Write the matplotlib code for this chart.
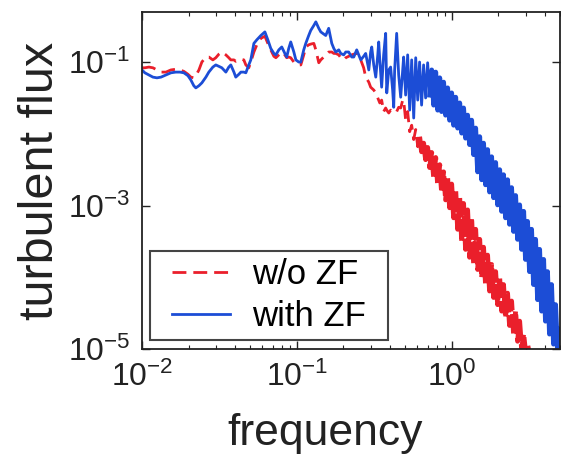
import numpy as np
import matplotlib
matplotlib.use("Agg")
import matplotlib.pyplot as plt
from matplotlib.legend_handler import HandlerLine2D
from matplotlib.ticker import FixedLocator, FixedFormatter, LogLocator, NullLocator

# Flux spectra with and without zonal flows, digitised as log10 values.
log_freq_nozf = [
    -2.000, -1.981, -1.955, -1.929, -1.903, -1.877, -1.845, -1.813, -1.781, -1.755,
    -1.729, -1.703, -1.684, -1.665, -1.652, -1.632, -1.613, -1.587, -1.568, -1.542,
    -1.523, -1.503, -1.484, -1.458, -1.439, -1.426, -1.406, -1.394, -1.374, -1.361,
    -1.342, -1.329, -1.310, -1.297, -1.277, -1.258, -1.232, -1.206, -1.187, -1.168,
    -1.148, -1.135, -1.116, -1.097, -1.077, -1.065, -1.052, -1.039, -1.019, -1.006,
    -0.987, -0.974, -0.955, -0.942, -0.923, -0.910, -0.890, -0.877, -0.858, -0.845,
    -0.826, -0.813, -0.794, -0.774, -0.761, -0.748, -0.729, -0.716, -0.697, -0.684,
    -0.665, -0.645, -0.632, -0.613, -0.600, -0.587, -0.568, -0.555, -0.535, -0.523,
    -0.503, -0.490, -0.477, -0.464, -0.452, -0.439, -0.426, -0.419, -0.406, -0.394,
    -0.381, -0.368, -0.355, -0.342, -0.329, -0.316, -0.310,
    -0.297, -0.284, -0.271, -0.258, -0.245, -0.232, -0.219, -0.207, -0.194, -0.181,
    -0.168, -0.155, -0.142, -0.129, -0.116, -0.103, -0.090, -0.077, -0.065, -0.052,
    -0.039, -0.026, -0.013, 0.000, 0.013, 0.026, 0.039, 0.052, 0.065, 0.077,
    0.090, 0.103, 0.116, 0.129, 0.142, 0.155, 0.168, 0.181, 0.194, 0.206,
    0.219, 0.232, 0.245, 0.258, 0.271, 0.284, 0.297, 0.310, 0.323, 0.335,
    0.348, 0.361, 0.374, 0.387, 0.400, 0.413, 0.426, 0.439, 0.452, 0.465,
    0.477, 0.490, 0.503,
]
log_flux_nozf = [
    -1.08, -1.08, -1.07, -1.08, -1.11, -1.14, -1.14, -1.11, -1.10, -1.11,
    -1.13, -1.17, -1.21, -1.22, -1.19, -1.11, -1.00, -0.93, -0.93, -0.97,
    -0.94, -0.89, -0.86, -0.90, -0.94, -0.97, -0.97, -0.99, -0.97, -0.96,
    -0.97, -1.04, -1.08, -1.00, -0.86, -0.76, -0.67, -0.64, -0.74, -0.83,
    -0.92, -0.94, -0.90, -0.86, -0.90, -0.94, -0.93, -0.94, -1.00, -1.01,
    -1.04, -1.04, -0.90, -0.79, -0.76, -0.75, -0.74, -0.83, -1.01, -0.97,
    -0.93, -0.90, -0.86, -0.86, -0.88, -0.88, -0.90, -0.94, -0.97, -0.94,
    -0.92, -0.90, -0.89, -0.88, -0.93, -0.97, -1.08, -1.21, -1.28, -1.35,
    -1.39, -1.43, -1.50, -1.57, -1.53, -1.69, -1.64, -1.67, -1.71, -1.67,
    -1.69, -1.67, -1.69, -1.63, -1.64, -1.53, -1.53,
    -1.81, -1.69, -1.97, -1.88, -2.08, -1.94, -2.18, -2.04, -2.25, -2.13,
    -2.36, -2.19, -2.47, -2.26, -2.61, -2.33, -2.71, -2.43, -2.81, -2.53,
    -2.92, -2.61, -3.03, -2.70, -3.17, -2.78, -3.33, -2.89, -3.50, -2.97,
    -3.61, -3.06, -3.72, -3.17, -3.81, -3.33, -3.89, -3.47, -4.00, -3.58,
    -4.10, -3.69, -4.19, -3.82, -4.28, -3.92, -4.38, -4.00, -4.47, -4.10,
    -4.56, -4.22, -4.67, -4.33, -4.79, -4.47, -4.89, -4.61, -5.00, -4.79,
    -5.03, -4.93, -5.07,
]
log_freq_zf = [
    -2.000, -1.981, -1.955, -1.929, -1.903, -1.877, -1.845, -1.813, -1.781, -1.755,
    -1.729, -1.703, -1.684, -1.665, -1.652, -1.632, -1.613, -1.587, -1.568, -1.542,
    -1.523, -1.503, -1.484, -1.458, -1.439, -1.426, -1.406, -1.394, -1.374, -1.361,
    -1.342, -1.329, -1.310, -1.297, -1.277, -1.258, -1.232, -1.206, -1.187, -1.168,
    -1.148, -1.135, -1.116, -1.097, -1.077, -1.065, -1.052, -1.039, -1.019, -1.006,
    -0.987, -0.974, -0.955, -0.942, -0.923, -0.910, -0.890, -0.877, -0.858, -0.845,
    -0.826, -0.813, -0.794, -0.774, -0.761, -0.748, -0.729, -0.716, -0.697, -0.684,
    -0.665, -0.645, -0.632, -0.613, -0.600, -0.587, -0.568, -0.555, -0.535, -0.523,
    -0.516, -0.503, -0.490, -0.477, -0.471, -0.464, -0.452, -0.439, -0.426, -0.419,
    -0.406, -0.394, -0.381, -0.374, -0.368, -0.355, -0.342, -0.329, -0.316, -0.310,
    -0.297, -0.284, -0.271, -0.258, -0.245, -0.232, -0.219, -0.207, -0.194, -0.181,
    -0.168, -0.155, -0.142, -0.129, -0.116, -0.103, -0.090, -0.077, -0.065, -0.052,
    -0.039, -0.026, -0.013, 0.000, 0.013, 0.026, 0.039, 0.052, 0.065, 0.077,
    0.090, 0.103, 0.116, 0.129, 0.142, 0.155, 0.168, 0.181, 0.194, 0.206,
    0.219, 0.232, 0.245, 0.258, 0.271, 0.284, 0.297, 0.310, 0.323, 0.335,
    0.348, 0.361, 0.374, 0.387, 0.400, 0.413, 0.426, 0.439, 0.452, 0.465,
    0.477, 0.490, 0.503, 0.516, 0.529, 0.542, 0.555, 0.568, 0.581, 0.594,
    0.606, 0.619, 0.632, 0.645, 0.658, 0.671, 0.684, 0.697,
]
log_flux_zf = [
    -1.11, -1.15, -1.18, -1.21, -1.22, -1.21, -1.18, -1.15, -1.14, -1.14,
    -1.15, -1.19, -1.25, -1.33, -1.36, -1.33, -1.29, -1.21, -1.14, -1.07,
    -1.04, -1.06, -1.08, -1.14, -1.07, -1.04, -1.14, -1.21, -1.17, -1.14,
    -1.14, -1.15, -1.04, -0.97, -0.74, -0.69, -0.63, -0.58, -0.69, -0.81,
    -0.88, -0.90, -0.83, -0.79, -0.88, -0.93, -0.81, -0.72, -0.86, -0.97,
    -1.00, -1.00, -0.83, -0.74, -0.63, -0.56, -0.49, -0.44, -0.53, -0.58,
    -0.61, -0.63, -0.53, -0.74, -0.81, -0.86, -0.83, -0.88, -0.90, -0.86,
    -0.86, -0.93, -0.93, -0.83, -0.90, -0.97, -0.92, -0.88, -1.11, -0.86,
    -0.79, -1.04, -1.21, -0.90, -0.72, -0.97, -1.35, -0.90, -0.60, -1.43,
    -1.11, -1.07, -1.39, -1.63, -1.11, -0.60, -1.18, -1.49, -1.11, -0.93,
    -1.46, -0.90, -1.67, -0.97, -1.78, -0.94, -1.53, -1.00, -1.60, -1.04,
    -1.50, -1.01, -1.46, -1.11, -1.60, -1.14, -1.67, -1.22, -1.69, -1.28,
    -1.74, -1.36, -1.81, -1.43, -1.88, -1.49, -1.92, -1.57, -1.99, -1.64,
    -2.06, -1.74, -2.15, -1.81, -2.29, -1.92, -2.53, -2.04, -2.64, -2.13,
    -2.71, -2.22, -2.81, -2.32, -2.89, -2.40, -2.99, -2.50, -3.08, -2.57,
    -3.17, -2.64, -3.26, -2.75, -3.36, -2.86, -3.47, -2.99, -3.61, -3.08,
    -3.75, -3.22, -3.92, -3.33, -4.10, -3.47, -4.31, -3.61, -4.47, -3.75,
    -4.61, -3.92, -4.79, -4.10, -4.93, -4.38, -5.03, -4.72,
]

series_labels = ["w/o ZF", "with ZF"]
x_tick_values = [1e-2, 1e-1, 1e0]
x_tick_labels = ["$10^{-2}$", "$10^{-1}$", "$10^{0}$"]
y_tick_values = [1e-5, 1e-3, 1e-1]
y_tick_labels = ["$10^{-5}$", "$10^{-3}$", "$10^{-1}$"]

RED = "#ea1f2b"
BLUE = "#1c4dd6"
INK = "#222222"

plt.rcParams["font.family"] = ["Liberation Sans", "DejaVu Sans"]
plt.rcParams["mathtext.default"] = "regular"


def plot_spectrum(ax, log_f, log_v, dense_from, color, label, dashed):
    """Draw a spectrum; the densely sampled high-frequency tail gets a heavier stroke."""
    f = 10.0 ** np.asarray(log_f)
    v = 10.0 ** np.asarray(log_v)
    k = int(np.searchsorted(f, dense_from))
    thin = dict(color=color, lw=2.0)
    thick = dict(color=color, lw=3.5)
    if dashed:
        thin["dashes"] = (5, 2.5)
        thick["dashes"] = (4, 0.8)
    line, = ax.plot(f[:k + 1], v[:k + 1], label=label, **thin)
    ax.plot(f[k:], v[k:], **thick)
    return line


fig = plt.figure(figsize=(5.61, 4.57), dpi=100)
ax = fig.add_axes([0.253, 0.236, 0.745, 0.738])

red_line = plot_spectrum(ax, log_freq_nozf, log_flux_nozf, 0.62, RED, series_labels[0], True)
blue_line = plot_spectrum(ax, log_freq_zf, log_flux_zf, 0.72, BLUE, series_labels[1], False)

ax.set_xscale("log")
ax.set_yscale("log")
ax.set_xlim(1e-2, 5.0)
ax.set_ylim(1e-5, 0.5)

ax.xaxis.set_major_locator(FixedLocator(x_tick_values))
ax.xaxis.set_major_formatter(FixedFormatter(x_tick_labels))
ax.xaxis.set_minor_locator(LogLocator(base=10, subs=np.arange(2, 10)))
ax.yaxis.set_major_locator(FixedLocator(y_tick_values))
ax.yaxis.set_major_formatter(FixedFormatter(y_tick_labels))
ax.yaxis.set_minor_locator(NullLocator())

ax.tick_params(which="both", direction="in", top=True, right=True,
               labelsize=23, colors=INK)
ax.tick_params(which="major", length=6, width=1.0)
ax.tick_params(which="minor", length=3, width=0.8)
ax.tick_params(axis="x", pad=9)
ax.tick_params(axis="y", pad=8)
for spine in ax.spines.values():
    spine.set_linewidth(1.3)
    spine.set_color(INK)

ax.set_xlabel("frequency", fontsize=32, color=INK)
ax.set_ylabel("turbulent flux", fontsize=35, color=INK)
ax.xaxis.set_label_coords(0.438, -0.19)
ax.yaxis.set_label_coords(-0.19, 0.5)

# legend handles are pushed right inside the box, the box spans a fixed width
pad_handler = HandlerLine2D(xpad=0.45)
leg = ax.legend(handles=[red_line, blue_line],
                loc="lower left", bbox_to_anchor=(0.019, 0.027, 0.57, 0.27),
                mode="expand", borderaxespad=0, fontsize=25,
                handlelength=2.1, handletextpad=0.63, borderpad=0.2,
                labelspacing=0.25, fancybox=False, framealpha=1.0,
                handler_map={red_line: pad_handler, blue_line: pad_handler})
leg.get_frame().set_edgecolor("#444444")
leg.get_frame().set_linewidth(1.5)

fig.savefig("out.png", dpi=100)
